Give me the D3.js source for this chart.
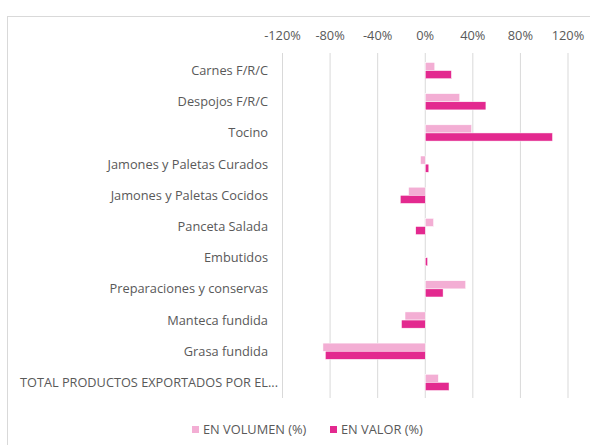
<!DOCTYPE html>
<html lang="es">
<head>
<meta charset="UTF-8">
<script src="https://d3js.org/d3.v7.min.js"></script>
<style>
  body { margin: 0; background: #fff; font-family: 'Open Sans', sans-serif; }
  .tick-label, .cat-label, .legend-label { fill: #595959; font-size: 12.8px; }
</style>
</head>
<body>
<svg id="chart" width="590" height="445"></svg>
<script>
// categorías y valores (%)
const categories = [
  "Carnes F/R/C",
  "Despojos F/R/C",
  "Tocino",
  "Jamones y Paletas Curados",
  "Jamones y Paletas Cocidos",
  "Panceta Salada",
  "Embutidos",
  "Preparaciones y conservas",
  "Manteca fundida",
  "Grasa fundida",
  "TOTAL PRODUCTOS EXPORTADOS POR EL..."
];
const volumen = [8, 29, 39, -4, -14, 7, 0, 34, -17, -86, 11];
const valor   = [22, 51, 107, 3, -21, -8, 2, 15, -20, -84, 20];
const ticks = [-120, -80, -40, 0, 40, 80, 120];
const seriesNames = ["EN VOLUMEN (%)", "EN VALOR (%)"];
const colors = ["#F3AED4", "#E3298F"];

const svg = d3.select("#chart");

// marco del gráfico
svg.append("rect")
  .attr("x", 7.5).attr("y", 16.5)
  .attr("width", 600).attr("height", 450)
  .attr("fill", "none").attr("stroke", "#d9d9d9");

const x = d3.scaleLinear().domain([-120, 120]).range([282.5, 568]);
const y = d3.scaleBand().domain(categories).range([55, 398]).paddingInner(0).paddingOuter(0);
const inner = d3.scaleBand().domain([0, 1]).range([0, y.bandwidth()]).paddingOuter(0.92).paddingInner(0);

// líneas de cuadrícula
svg.append("g").selectAll("line")
  .data(ticks).enter().append("line")
  .attr("x1", d => x(d)).attr("x2", d => x(d))
  .attr("y1", 53).attr("y2", 398)
  .attr("stroke", "#d9d9d9").attr("stroke-width", 1);

// etiquetas del eje superior
svg.append("g").selectAll("text")
  .data(ticks).enter().append("text")
  .attr("class", "tick-label")
  .attr("x", d => x(d)).attr("y", 40)
  .attr("text-anchor", "middle")
  .text(d => d + "%");

// barras
const rows = categories.map((c, i) => ({ cat: c, vals: [volumen[i], valor[i]] }));
const g = svg.append("g").selectAll("g")
  .data(rows).enter().append("g")
  .attr("transform", d => `translate(0,${y(d.cat)})`);

g.selectAll("rect")
  .data(d => d.vals.map((v, k) => ({ v, k })))
  .enter().append("rect")
  .attr("x", d => x(Math.min(0, d.v)))
  .attr("width", d => Math.abs(x(d.v) - x(0)))
  .attr("y", d => inner(d.k))
  .attr("height", inner.bandwidth())
  .attr("fill", d => colors[d.k])
  .attr("stroke", "#fff").attr("stroke-width", 0.5);

// etiquetas de categoría (la larga se comprime como en Excel)
svg.append("g").selectAll("text")
  .data(categories).enter().append("text")
  .attr("class", "cat-label")
  .attr("x", 268)
  .attr("y", d => y(d) + y.bandwidth() / 2)
  .attr("dy", "0.35em")
  .attr("text-anchor", "end")
  .text(d => d)
  .each(function() {
    const w = this.getComputedTextLength();
    if (w > 250) {
      d3.select(this).attr("x", 278)
        .attr("textLength", 258).attr("lengthAdjust", "spacingAndGlyphs");
    }
  });

// leyenda
const legendX = [192, 330];
const lg = svg.append("g").selectAll("g")
  .data(seriesNames).enter().append("g")
  .attr("transform", (d, i) => `translate(${legendX[i]},430)`);
lg.append("rect")
  .attr("x", 0).attr("y", -4).attr("width", 7).attr("height", 7)
  .attr("fill", (d, i) => colors[i]);
lg.append("text")
  .attr("class", "legend-label")
  .attr("x", 11).attr("y", 0).attr("dy", "0.35em")
  .text(d => d);
</script>
</body>
</html>
